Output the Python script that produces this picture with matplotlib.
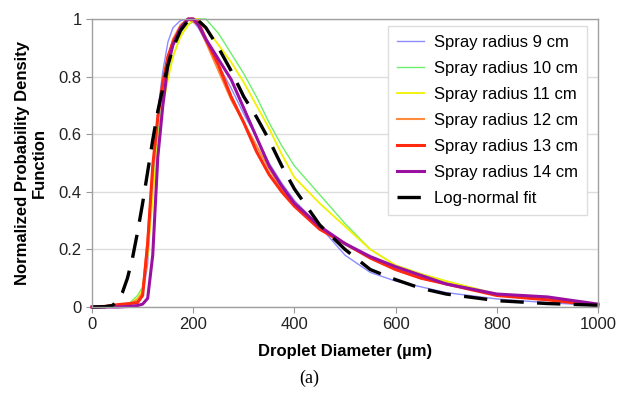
import matplotlib.pyplot as plt
from matplotlib.ticker import FuncFormatter

# ===== data =====
diam = [0, 25, 50, 75, 90, 100, 110, 120, 130, 140, 150, 160, 175, 190, 200, 210,
        225, 250, 275, 300, 325, 350, 375, 400, 450, 500, 550, 600, 650, 700, 800, 900, 1000]

r9 = [0, 0.001, 0.005, 0.01, 0.02, 0.04, 0.15, 0.45, 0.68, 0.82, 0.92, 0.97, 0.995, 1.0, 0.99, 0.97,
      0.92, 0.84, 0.76, 0.67, 0.59, 0.50, 0.43, 0.37, 0.28, 0.18, 0.12, 0.09, 0.07, 0.05, 0.028, 0.015, 0.005]
r10 = [0, 0.002, 0.006, 0.015, 0.04, 0.07, 0.20, 0.42, 0.60, 0.72, 0.80, 0.87, 0.94, 0.98, 0.99, 1.0,
       1.0, 0.95, 0.88, 0.81, 0.73, 0.64, 0.56, 0.49, 0.39, 0.29, 0.20, 0.145, 0.115, 0.09, 0.045, 0.025, 0.01]
r11 = [0, 0.002, 0.005, 0.012, 0.03, 0.06, 0.18, 0.38, 0.57, 0.70, 0.79, 0.87, 0.94, 0.98, 1.0, 1.0,
       0.97, 0.91, 0.85, 0.78, 0.70, 0.62, 0.53, 0.45, 0.36, 0.28, 0.20, 0.145, 0.115, 0.09, 0.045, 0.025, 0.008]
r12 = [0, 0.002, 0.005, 0.012, 0.025, 0.05, 0.24, 0.48, 0.65, 0.77, 0.86, 0.93, 0.98, 1.0, 0.99, 0.98,
       0.92, 0.82, 0.72, 0.64, 0.56, 0.48, 0.41, 0.36, 0.28, 0.22, 0.17, 0.13, 0.10, 0.08, 0.045, 0.03, 0.008]
r13 = [0, 0.002, 0.008, 0.012, 0.015, 0.04, 0.22, 0.49, 0.66, 0.78, 0.87, 0.92, 0.97, 1.0, 1.0, 0.99,
       0.93, 0.84, 0.73, 0.64, 0.54, 0.46, 0.40, 0.35, 0.27, 0.22, 0.17, 0.13, 0.10, 0.08, 0.04, 0.025, 0.005]
r14 = [0, 0, 0, 0.002, 0.005, 0.01, 0.03, 0.18, 0.52, 0.70, 0.84, 0.91, 0.97, 1.0, 1.0, 0.98,
       0.93, 0.86, 0.79, 0.69, 0.59, 0.49, 0.42, 0.36, 0.28, 0.22, 0.175, 0.14, 0.11, 0.08, 0.045, 0.035, 0.01]

fit_diam = [0, 25, 40, 50, 60, 70, 80, 90, 100, 110, 120, 130, 140, 150, 160, 175, 190, 200, 210,
            225, 250, 275, 300, 325, 350, 375, 400, 450, 500, 550, 600, 650, 700, 800, 900, 1000]
fit = [0, 0.001, 0.005, 0.02, 0.05, 0.10, 0.17, 0.26, 0.36, 0.47, 0.58, 0.68, 0.76, 0.84, 0.90, 0.96, 0.995, 1.0, 0.995,
       0.97, 0.90, 0.82, 0.73, 0.66, 0.58, 0.49, 0.41, 0.285, 0.20, 0.13, 0.095, 0.065, 0.045, 0.022, 0.012, 0.006]

labels = ['Spray radius 9 cm', 'Spray radius 10 cm', 'Spray radius 11 cm',
          'Spray radius 12 cm', 'Spray radius 13 cm', 'Spray radius 14 cm']
series = [r9, r10, r11, r12, r13, r14]
colors = ['#8C8CFF', '#6CF06C', '#F2F200', '#FF8C3C', '#FF2A10', '#9A10A0']
widths = [1.0, 1.0, 1.3, 1.5, 2.2, 2.2]

plt.rcParams['font.family'] = ['Liberation Sans', 'DejaVu Sans']

fig = plt.figure(figsize=(6.18, 4.09), dpi=100)
ax = fig.add_axes([0.1489, 0.2494, 0.8187, 0.7041])

for lab, vals, c, w in zip(labels, series, colors, widths):
    ax.plot(diam, vals, color=c, linewidth=w, label=lab, clip_on=False)
ax.plot(fit_diam, fit, color='black', linewidth=2.4, dashes=(7, 4), label='Log-normal fit', clip_on=False)

ax.set_xlim(0, 1000)
ax.set_ylim(0, 1)
ax.set_xticks(range(0, 1001, 200))
ax.set_yticks([0, 0.2, 0.4, 0.6, 0.8, 1.0])
ax.yaxis.set_major_formatter(FuncFormatter(lambda v, _: f"{v:g}"))
ax.tick_params(labelsize=12, colors='#222222', length=4, width=0.8, direction='out')
ax.tick_params(axis='both', color='#999999')
ax.grid(axis='y', color='#DDDDDD', linewidth=1.0)
ax.set_axisbelow(True)
for s in ax.spines.values():
    s.set_color('#A0A0A0')
    s.set_linewidth(1.0)

ax.set_xlabel('Droplet Diameter (µm)', fontsize=12, fontweight='bold', labelpad=8)
ax.set_ylabel('Normalized Probability Density\nFunction', fontsize=12, fontweight='bold',
              multialignment='center', labelpad=8)

leg = ax.legend(loc='upper right', bbox_to_anchor=(0.978, 0.976), borderaxespad=0, fontsize=12,
                frameon=True, fancybox=False, edgecolor='#DDDDDD', framealpha=1, handlelength=1.6,
                handletextpad=0.6, labelspacing=0.66, borderpad=0.55)
leg.get_frame().set_linewidth(1.0)

fig.text(0.5, 0.076, '(a)', ha='center', va='center', fontsize=13, family='Liberation Serif')

fig.savefig('out.png', dpi=100)
